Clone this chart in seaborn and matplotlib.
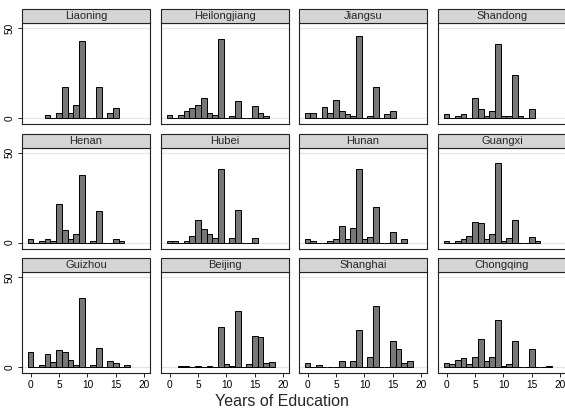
import numpy as np
import pandas as pd
import matplotlib
matplotlib.use("Agg")
import matplotlib.pyplot as plt
import seaborn as sns
from matplotlib.patches import Rectangle

sns.set_style("white")
plt.rcParams['font.family'] = ['Liberation Sans', 'DejaVu Sans']

provinces = ["Liaoning", "Heilongjiang", "Jiangsu", "Shandong",
             "Henan", "Hubei", "Hunan", "Guangxi",
             "Guizhou", "Beijing", "Shanghai", "Chongqing"]

# years of education (bar position) and percent of respondents (bar height)
liaoning_years = [3, 5, 6, 7, 8, 9, 12, 14, 15]
liaoning_pct = [1.5, 3, 17.2, 3, 7.2, 43, 17.2, 3, 5.7]

heilongjiang_years = [0, 2, 3, 4, 5, 6, 7, 8, 9, 11, 12, 15, 16, 17]
heilongjiang_pct = [1.9, 1.9, 3.9, 5.6, 7.4, 10.9, 2.8, 1.9, 43.9, 1.1, 9.3, 6.5, 2.8, 1.1]

jiangsu_years = [0, 1, 3, 4, 5, 6, 7, 8, 9, 11, 12, 14, 15]
jiangsu_pct = [3, 3, 5.9, 3, 9.8, 3.9, 2, 1.1, 45.4, 1.1, 17.2, 2, 3.9]

shandong_years = [0, 2, 3, 5, 6, 7, 8, 9, 10, 11, 12, 13, 15]
shandong_pct = [2, 1.1, 2.4, 10.9, 5, 1.1, 3.9, 41.1, 1.1, 1.1, 24, 1.1, 5]

henan_years = [0, 2, 3, 4, 5, 6, 7, 8, 9, 11, 12, 15, 16]
henan_pct = [2, 1.1, 2, 1.1, 21.3, 6.7, 2, 4.6, 37.8, 1.1, 17.6, 2, 1.1]

hubei_years = [0, 1, 3, 4, 5, 6, 7, 8, 9, 11, 12, 15]
hubei_pct = [1.1, 1.1, 1.1, 3.7, 12.8, 7.6, 5, 2.8, 41, 2.6, 18, 2.6]

hunan_years = [0, 1, 4, 5, 6, 7, 8, 9, 10, 11, 12, 15, 17]
hunan_pct = [2.2, 1.1, 1.1, 2.2, 9.3, 2.2, 8.1, 41.1, 2.2, 3, 19.6, 6.1, 2.2]

guangxi_years = [0, 2, 3, 4, 5, 6, 7, 8, 9, 10, 11, 12, 15, 16]
guangxi_pct = [0.7, 0.7, 1.9, 3.9, 11.3, 10.6, 1.9, 4.6, 44.4, 0.7, 2.4, 12.8, 3.1, 0.7]

guizhou_years = [0, 2, 3, 4, 5, 6, 7, 8, 9, 11, 12, 14, 15, 17]
guizhou_pct = [8.3, 1.1, 7.2, 3, 9.4, 8.3, 3.9, 1.1, 38.3, 1.1, 10.6, 3.1, 2.2, 1.1]

beijing_years = [2, 3, 5, 7, 9, 10, 11, 12, 14, 15, 16, 17, 18]
beijing_pct = [0.5, 0.5, 0.5, 0.5, 22, 1.7, 0.7, 31.3, 1.7, 17.2, 16.5, 2.2, 3]

shanghai_years = [0, 2, 6, 8, 9, 11, 12, 15, 16, 17, 18]
shanghai_pct = [2.2, 1.1, 3.3, 3.3, 20.7, 5.6, 33.9, 14.3, 9.8, 2.2, 3.1]

chongqing_years = [0, 1, 2, 3, 4, 5, 6, 7, 8, 9, 10, 11, 12, 15, 18]
chongqing_pct = [2.4, 1.7, 3.9, 4.8, 1.7, 5.6, 15.6, 3.3, 5.6, 26.3, 0.7, 1.7, 14.6, 9.8, 0.7]

all_years = [liaoning_years, heilongjiang_years, jiangsu_years, shandong_years,
             henan_years, hubei_years, hunan_years, guangxi_years,
             guizhou_years, beijing_years, shanghai_years, chongqing_years]
all_pct = [liaoning_pct, heilongjiang_pct, jiangsu_pct, shandong_pct,
           henan_pct, hubei_pct, hunan_pct, guangxi_pct,
           guizhou_pct, beijing_pct, shanghai_pct, chongqing_pct]

frames = []
for name, yrs, pct in zip(provinces, all_years, all_pct):
    frames.append(pd.DataFrame({"province": name, "years": yrs, "pct": pct}))
df = pd.concat(frames, ignore_index=True)

g = sns.FacetGrid(df, col="province", col_wrap=4, col_order=provinces,
                  sharex=True, sharey=True, height=1.2, aspect=1.2)
g.map_dataframe(sns.histplot, x="years", weights="pct", discrete=True,
                color="#777777", edgecolor="black", linewidth=0.7, alpha=1,
                zorder=3)

fig = g.figure
fig.set_size_inches(5.65, 4.12)
W, H = 565.0, 412.0

lefts = [22, 161, 299, 438]
tops = [23, 147.5, 272]
pw, ph = 128, 101
strip_h = 14

for i, ax in enumerate(g.axes.flat):
    r, c = divmod(i, 4)
    ax.set_position([lefts[c] / W, 1 - (tops[r] + ph) / H, pw / W, ph / H])
    ax.set_xlim(-1.5, 21)
    ax.set_ylim(-3.3, 52.8)
    ax.set_title("")
    ax.set_xlabel("")
    ax.set_ylabel("")
    for y in (0, 50):
        ax.axhline(y, color="#e6e6e6", lw=0.9, zorder=1)
    for sp in ax.spines.values():
        sp.set_visible(True)
        sp.set_color("#222222")
        sp.set_linewidth(0.8)
    ax.set_yticks([0, 50])
    ax.set_xticks([0, 5, 10, 15, 20])
    ax.tick_params(axis="both", direction="out", length=3, width=0.6,
                   labelsize=7.3, pad=2, colors="black")
    ax.tick_params(axis="y", labelrotation=90)
    ax.tick_params(axis="x", bottom=(r == 2), labelbottom=(r == 2))
    ax.tick_params(axis="y", left=(c == 0), labelleft=(c == 0))
    for lab in ax.get_yticklabels():
        lab.set_va("center")
    # gray header strip
    sh = strip_h / ph
    ax.add_patch(Rectangle((0, 1), 1, sh, transform=ax.transAxes,
                           facecolor="#d5d5d5", edgecolor="#222222",
                           linewidth=0.8, clip_on=False, zorder=5))
    ax.text(0.5, 1 + sh / 2, provinces[i], transform=ax.transAxes,
            ha="center", va="center", fontsize=8, zorder=6)

fig.text(282 / W, 1 - 401 / H, "Years of Education", ha="center",
         va="center", fontsize=11.5)

fig.savefig("out.png", dpi=100)
